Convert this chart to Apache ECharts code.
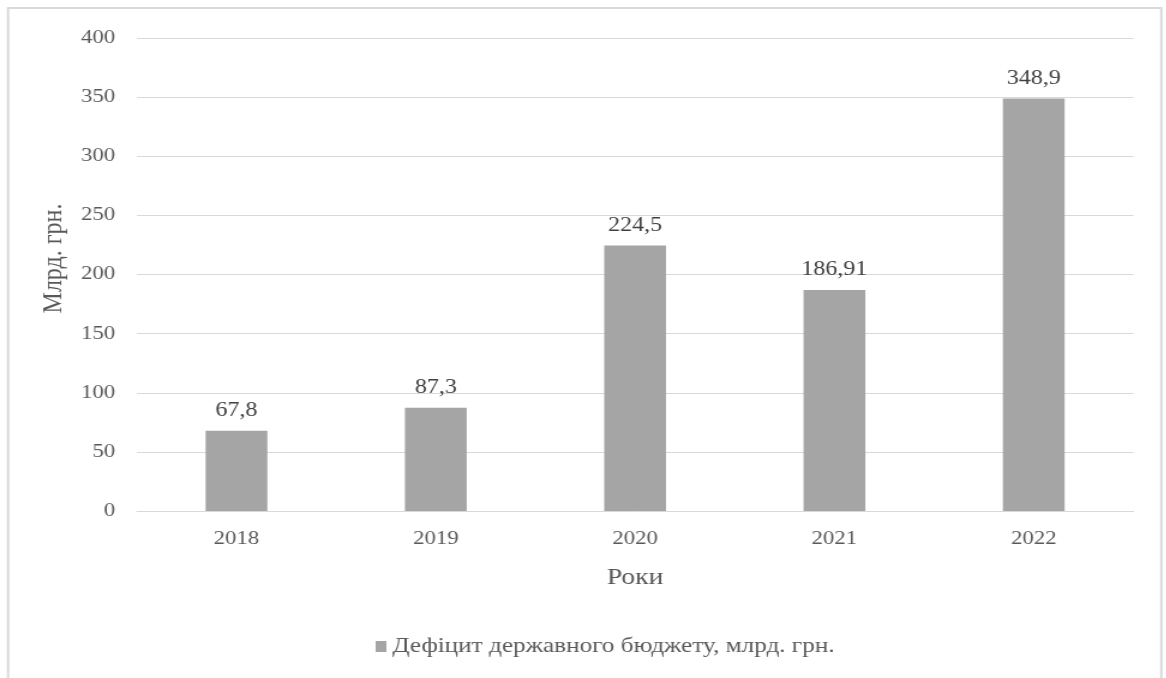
<!DOCTYPE html>
<html><head><meta charset="utf-8">
<script src="https://cdn.jsdelivr.net/npm/echarts@6/dist/echarts.min.js"></script>
<style>html,body{margin:0;padding:0;background:#fff;overflow:hidden}
#wrap{width:1166px;height:678px;overflow:hidden}
#c{width:972px;height:678px;transform:scaleX(1.2);transform-origin:0 0}</style>
</head><body><div id="wrap"><div id="c"></div></div>
<script>
const categories = ['2018','2019','2020','2021','2022'];
const values = [67.8, 87.3, 224.5, 186.91, 348.9];
const valueLabels = ['67,8','87,3','224,5','186,91','348,9'];
const seriesName = 'Дефіцит державного бюджету, млрд. грн.';
const yTitle = 'Млрд. грн.';
const xTitle = 'Роки';
const font = '"Liberation Serif", "Times New Roman", serif';
const chart = echarts.init(document.getElementById('c'));
chart.setOption({
  animation:false,
  textStyle:{fontFamily:font},
  graphic:[{type:'rect',shape:{x:6.7,y:8,width:961,height:700},style:{fill:'none',stroke:'#d9d9d9',lineWidth:2},silent:true}],
  grid:{left:114,right:27.5,top:38,bottom:167},
  legend:{bottom:16,left:308,itemWidth:9,itemHeight:11,icon:'rect',itemGap:10,
    textStyle:{fontFamily:font,fontSize:21,color:'#595959'},data:[seriesName]},
  xAxis:{type:'category',data:categories,name:xTitle,nameLocation:'middle',nameGap:55,
    nameTextStyle:{fontFamily:font,fontSize:23,color:'#595959'},
    axisLine:{lineStyle:{color:'#d9d9d9'}},axisTick:{show:false},
    axisLabel:{fontFamily:font,fontSize:19,color:'#595959',margin:19}},
  yAxis:{type:'value',min:0,max:400,interval:50,name:yTitle,nameLocation:'middle',nameGap:48,
    nameTextStyle:{fontFamily:font,fontSize:24,color:'#595959',padding:[0,0,0,32]},
    axisLine:{show:false},axisTick:{show:false},
    splitLine:{lineStyle:{color:'#d9d9d9'}},
    axisLabel:{fontFamily:font,fontSize:19,color:'#595959',margin:18}},
  series:[{type:'bar',name:seriesName,data:values,barWidth:'31%',
    itemStyle:{color:'#a5a5a5'},
    label:{show:true,position:'top',distance:10,fontFamily:font,fontSize:20,color:'#404040',
      formatter:p=>valueLabels[p.dataIndex]}}]
});
</script></body></html>
